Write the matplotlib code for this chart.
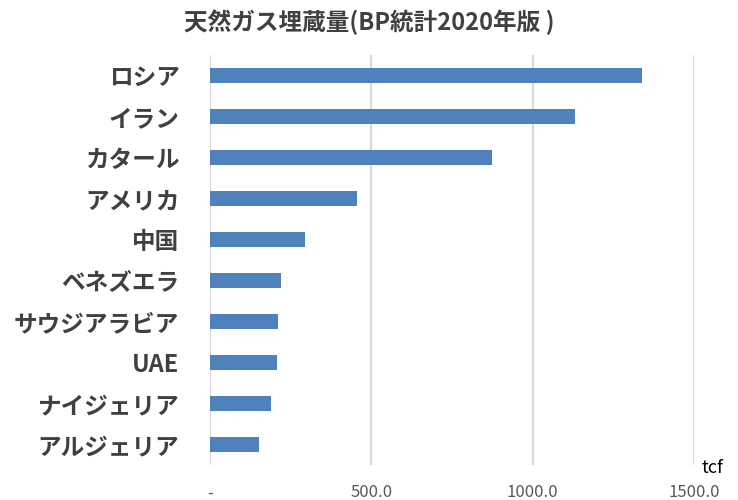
import matplotlib
matplotlib.use("Agg")
import matplotlib.pyplot as plt

countries = ["ロシア", "イラン", "カタール", "アメリカ", "中国", "ベネズエラ", "サウジアラビア", "UAE", "ナイジェリア", "アルジェリア"]
reserves = [1340, 1132, 873, 455, 295, 221, 211, 208, 190, 152]
tick_values = [0, 500, 1000, 1500]
tick_labels = ["-", "500.0", "1000.0", "1500.0"]

plt.rcParams["font.family"] = "Noto Sans CJK JP"
fig = plt.figure(figsize=(7.38, 5.0), dpi=100)
ax = fig.add_axes([210/738, 35/500, (694-210)/738, 410/500])
y = list(range(len(countries)))[::-1]
ax.barh(y, reserves, height=0.37, color="#4F81BD", zorder=3)
ax.set_ylim(-0.5, 9.5)
ax.set_xlim(0, 1500)
ax.set_yticks(y)
ax.set_yticklabels(countries, fontsize=17, color="#404040", fontweight="bold")
ax.set_xticks(tick_values)
ax.set_xticklabels(tick_labels, fontsize=12, color="#595959")
ax.tick_params(length=0)
ax.tick_params(axis="y", pad=22)
ax.tick_params(axis="x", pad=14)
ax.grid(axis="x", color="#D9D9D9", linewidth=1.5, zorder=0)
for s in ax.spines.values():
    s.set_visible(False)
fig.text(0.5, 0.955, "天然ガス埋蔵量(BP統計2020年版 )", ha="center", va="center", fontsize=17, color="#404040", fontweight="bold")
fig.text(712/738, 1-468/500, "tcf", ha="center", va="center", fontsize=13, color="black")
fig.savefig("out.png", dpi=100)
